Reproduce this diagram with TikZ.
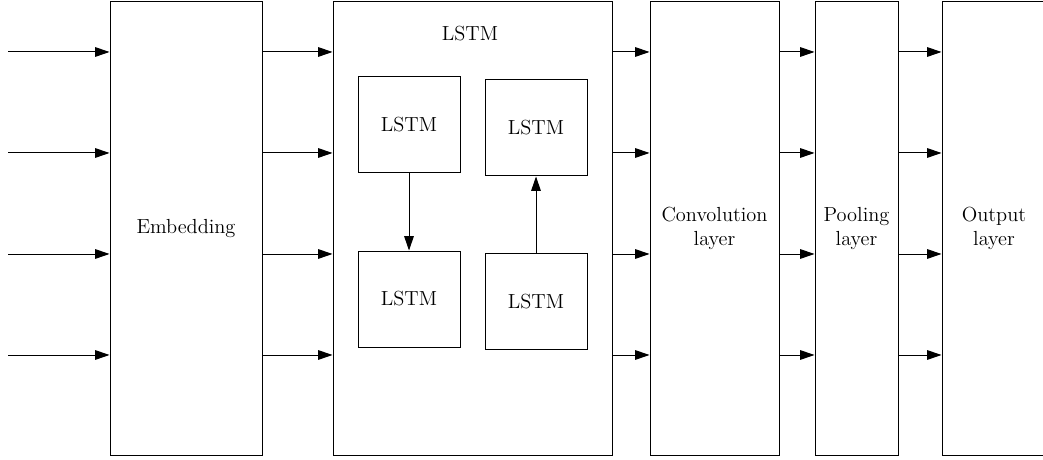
\documentclass[tikz,border=0pt]{standalone}
\usetikzlibrary{arrows.meta}
\usetikzlibrary{positioning}

\begin{document}
\begin{tikzpicture}[-{Triangle[length=3.6mm,width=2.4mm]},
            line width=0.7pt,
            font=\fontsize{14.5}{17.5}\selectfont,
            layer/.style = {draw,-,minimum height=11.325cm,
                align=center,inner sep=0pt},
            cell/.style = {draw,-,minimum width=2.55cm,
                minimum height=2.4cm,inner sep=0pt}]
            \useasboundingbox (0,0) rectangle (26.075,11.5);
            \clip (0,0) rectangle (26.075,11.5);
            \node[layer,minimum width=3.8cm](emb) at (4.65,5.7875) {Embedding};
            \node[layer,minimum width=6.975cm](lstm) at (11.8125,5.7875) {};
            \node[layer,minimum width=3.225cm](conv) at (17.8625,5.7875) {Convolution\\layer};
            \node[layer,minimum width=2.075cm](pool) at (21.4125,5.7875) {Pooling\\layer};
            \node[layer,minimum width=2.6cm](out) at (24.85,5.7875) {Output\\layer};
            \node[inner sep=0pt](title) at (11.75,10.65) {LSTM};
            % inner cells
            \node[cell](c1) at (10.225,8.375) {LSTM};
            \node[cell](c2) at (13.4,8.3) {LSTM};
            \node[cell](c3) at (10.225,4.025) {LSTM};
            \node[cell](c4) at (13.4,3.9625) {LSTM};
            \path[]
                (c1) edge (c3)
                (c4) edge (c2);
            \foreach \y [count=\i] in {10.2,7.675,5.15,2.625} {
                \coordinate (in\i) at (0.2,\y);
                \draw (in\i) -- (emb.west |- in\i);
                \draw (emb.east |- in\i) -- (lstm.west |- in\i);
                \draw (lstm.east |- in\i) -- (conv.west |- in\i);
                \draw (conv.east |- in\i) -- (pool.west |- in\i);
                \draw (pool.east |- in\i) -- (out.west |- in\i);
            }
        \end{tikzpicture}
\end{document}
